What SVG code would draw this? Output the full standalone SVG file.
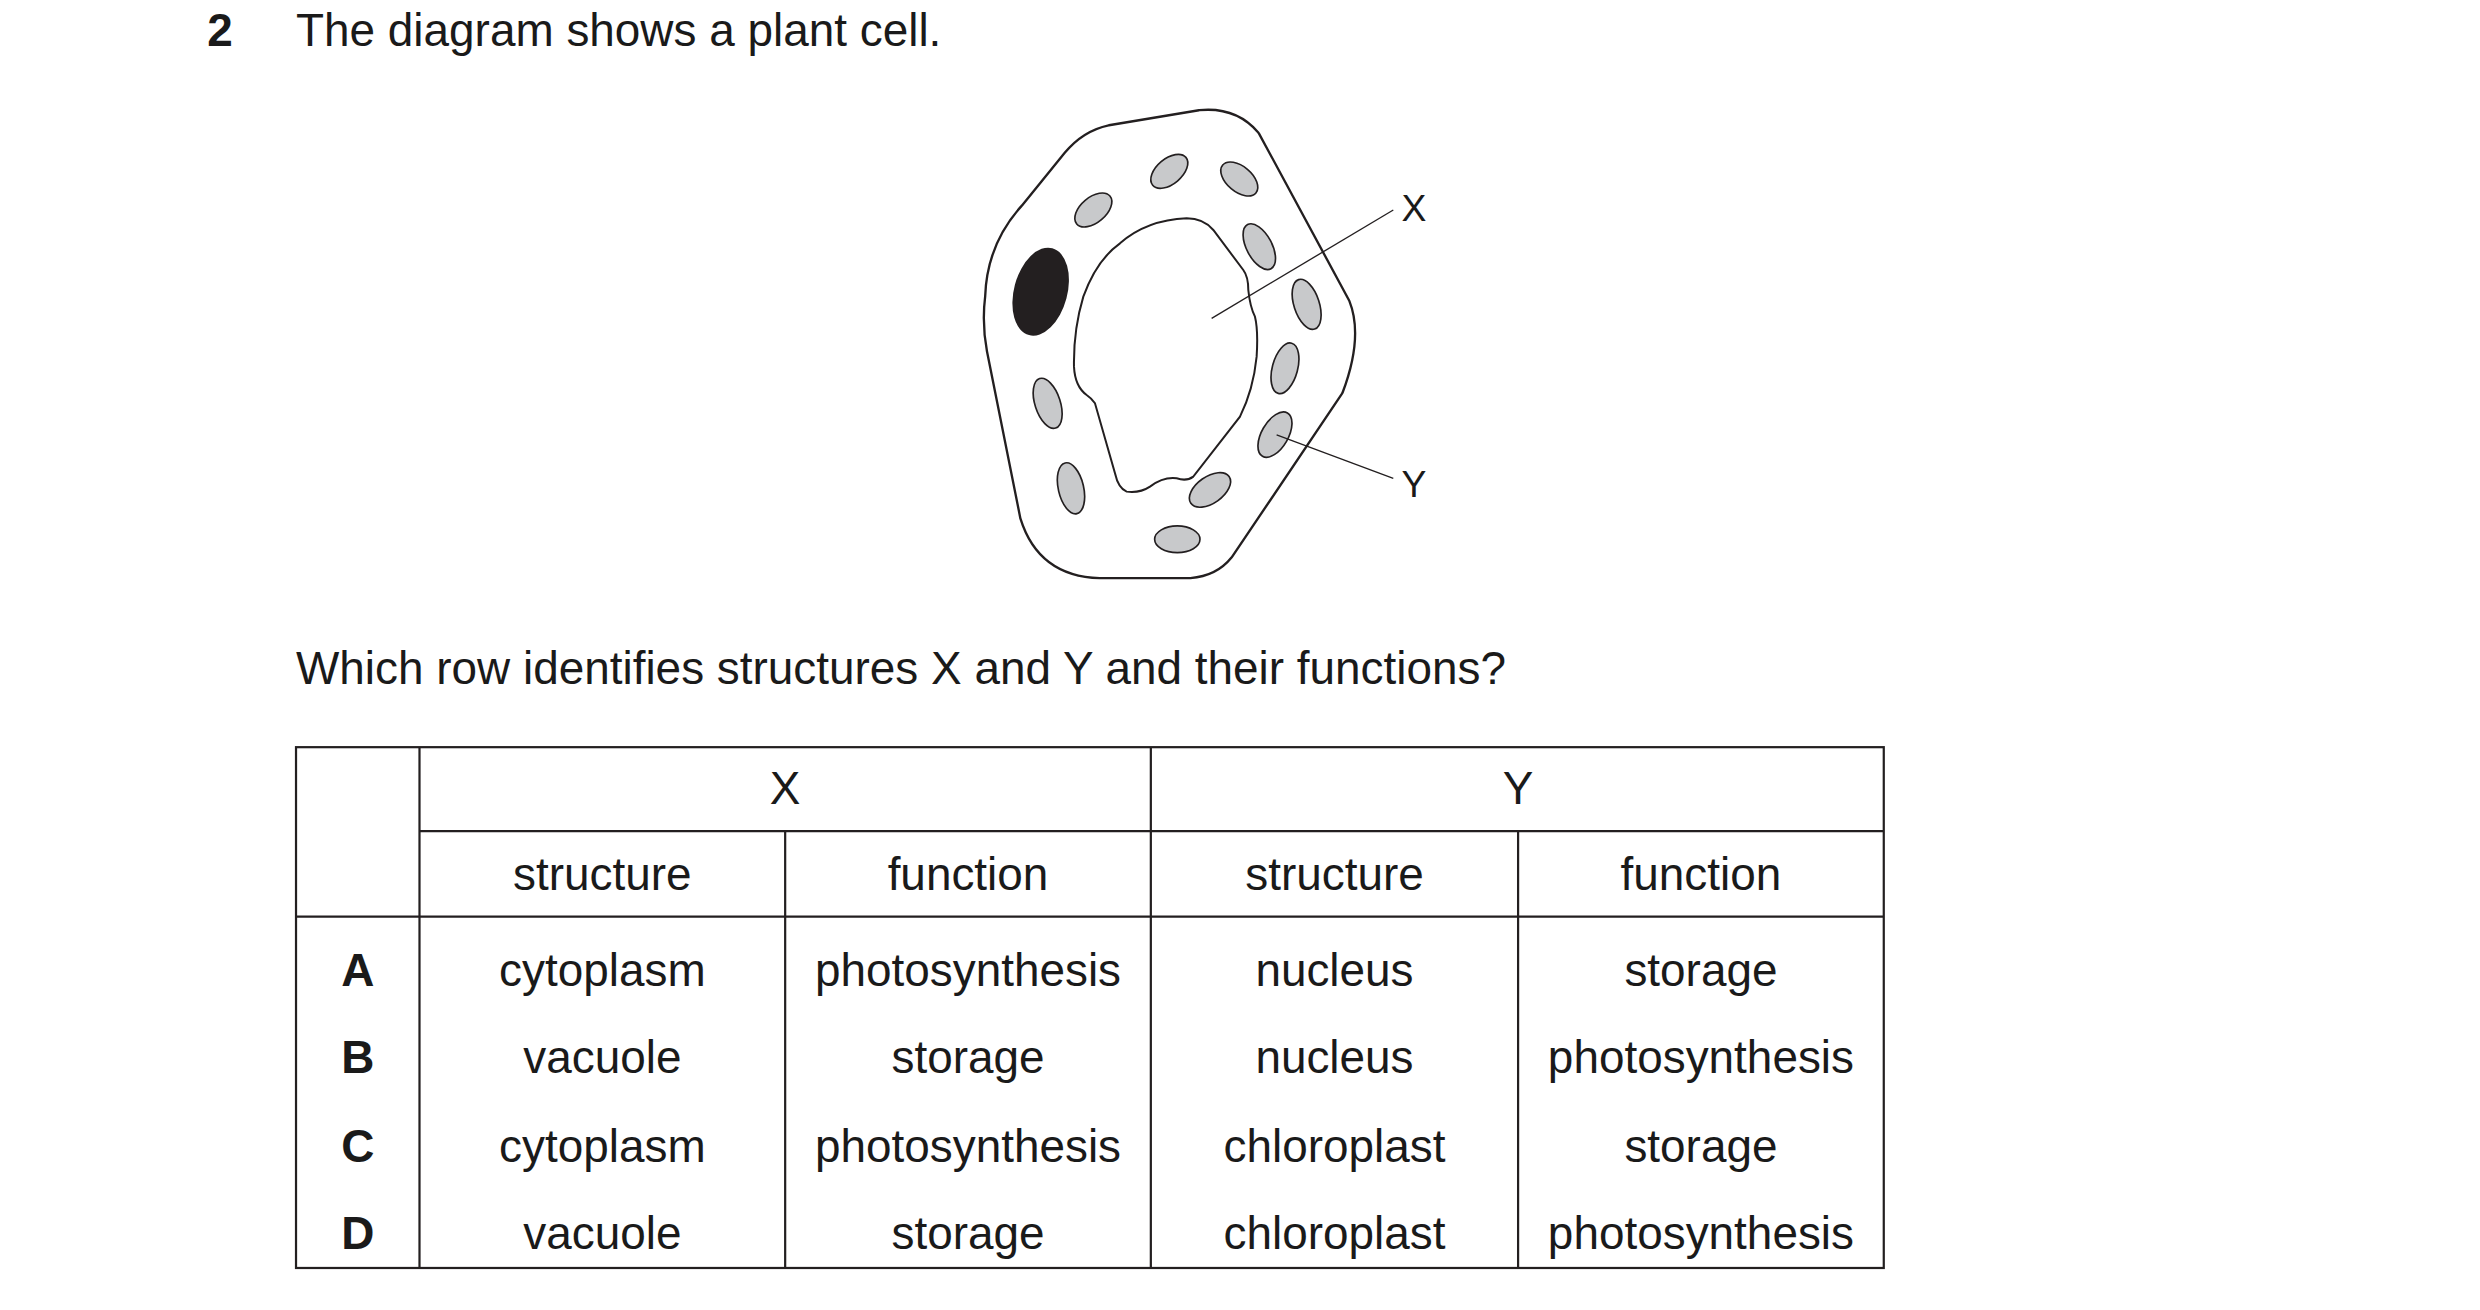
<svg xmlns="http://www.w3.org/2000/svg" width="2480" height="1310" viewBox="0 0 2480 1310">
<style>
text{font-family:"Liberation Sans",Arial,sans-serif;font-size:29px;fill:#1a1a1a}
.c{text-anchor:middle}
.b{font-weight:bold}
.t{stroke:#231f20;stroke-width:1.4;fill:none}
.chl{fill:#c8c9cb;stroke:#231f20;stroke-width:5}
</style>
<rect width="2480" height="1310" fill="#fff"/>
<g id="cell" transform="translate(960,90) scale(0.3333)">
<path id="wall" d="M95,620 Q100,470 200,360 L330,200 Q380,140 450,125 L720,80 Q820,70 880,140 L1150,640 Q1190,740 1130,900 L800,1390 Q760,1440 690,1445 L420,1445 Q250,1440 200,1280 L100,780 Q85,700 95,620 Z" fill="#fff" stroke="#231f20" stroke-width="46" stroke-linejoin="round"/>
<path d="M95,620 Q100,470 200,360 L330,200 Q380,140 450,125 L720,80 Q820,70 880,140 L1150,640 Q1190,740 1130,900 L800,1390 Q760,1440 690,1445 L420,1445 Q250,1440 200,1280 L100,780 Q85,700 95,620 Z" fill="#fff" stroke="#fff" stroke-width="32" stroke-linejoin="round"/>
<path id="vacuole" d="M480,460 Q560,390 680,385 Q730,385 760,420 L850,540 Q865,560 865,600 Q870,650 885,680 Q895,720 890,800 Q880,900 840,980 L700,1160 Q680,1175 650,1165 Q610,1160 570,1190 Q540,1210 500,1205 Q475,1195 465,1150 L405,940 Q395,925 380,915 Q345,890 342,830 Q340,720 370,620 Q410,510 480,460 Z" fill="#fff" stroke="#231f20" stroke-width="6"/>
<ellipse id="nucleus" cx="242" cy="605" rx="80" ry="135" transform="rotate(15 242 605)" fill="#231f20"/>
<g id="chloroplasts">
<ellipse class="chl" cx="628" cy="244" rx="65" ry="38" transform="rotate(-40 628 244)"/>
<ellipse class="chl" cx="838" cy="267" rx="65" ry="38" transform="rotate(40 838 267)"/>
<ellipse class="chl" cx="400" cy="360" rx="65" ry="38" transform="rotate(-40 400 360)"/>
<ellipse class="chl" cx="898" cy="470" rx="75" ry="38" transform="rotate(62 898 470)"/>
<ellipse class="chl" cx="1040" cy="643" rx="78" ry="38" transform="rotate(72 1040 643)"/>
<ellipse class="chl" cx="975" cy="835" rx="78" ry="38" transform="rotate(-75 975 835)"/>
<ellipse class="chl" cx="945" cy="1034" rx="75" ry="40" transform="rotate(-60 945 1034)"/>
<ellipse class="chl" cx="263" cy="940" rx="78" ry="38" transform="rotate(72 263 940)"/>
<ellipse class="chl" cx="333" cy="1195" rx="78" ry="38" transform="rotate(77 333 1195)"/>
<ellipse class="chl" cx="750" cy="1200" rx="70" ry="40" transform="rotate(-35 750 1200)"/>
<ellipse class="chl" cx="652" cy="1348" rx="68" ry="40"/>
</g>
<g id="connectors" stroke="#231f20" stroke-width="4">
<line x1="755" y1="685" x2="1300" y2="360"/>
<line x1="950" y1="1035" x2="1300" y2="1165"/>
</g>
<text x="1362" y="393" class="c" style="font-size:112px">X</text>
<text x="1362" y="1220" class="c" style="font-size:112px">Y</text>
</g>
<g transform="scale(1.583)">
<text x="131" y="29" class="b">2</text>
<text x="187" y="29">The diagram shows a plant cell.</text>
<text x="187" y="432">Which row identifies structures X and Y and their functions?</text>
<g id="table">
<rect x="187" y="472" width="1003" height="329" class="t"/>
<line x1="265" y1="472" x2="265" y2="801" class="t"/>
<line x1="727" y1="472" x2="727" y2="801" class="t"/>
<line x1="496" y1="525" x2="496" y2="801" class="t"/>
<line x1="959" y1="525" x2="959" y2="801" class="t"/>
<line x1="265" y1="525" x2="1190" y2="525" class="t"/>
<line x1="187" y1="579" x2="1190" y2="579" class="t"/>
<text x="496" y="508" class="c">X</text>
<text x="959" y="508" class="c">Y</text>
<text x="380.5" y="562" class="c">structure</text><text x="611.5" y="562" class="c">function</text><text x="843" y="562" class="c">structure</text><text x="1074.5" y="562" class="c">function</text>
<text x="226" y="623" class="c b">A</text><text x="380.5" y="623" class="c">cytoplasm</text><text x="611.5" y="623" class="c">photosynthesis</text><text x="843" y="623" class="c">nucleus</text><text x="1074.5" y="623" class="c">storage</text>
<text x="226" y="678" class="c b">B</text><text x="380.5" y="678" class="c">vacuole</text><text x="611.5" y="678" class="c">storage</text><text x="843" y="678" class="c">nucleus</text><text x="1074.5" y="678" class="c">photosynthesis</text>
<text x="226" y="734" class="c b">C</text><text x="380.5" y="734" class="c">cytoplasm</text><text x="611.5" y="734" class="c">photosynthesis</text><text x="843" y="734" class="c">chloroplast</text><text x="1074.5" y="734" class="c">storage</text>
<text x="226" y="789" class="c b">D</text><text x="380.5" y="789" class="c">vacuole</text><text x="611.5" y="789" class="c">storage</text><text x="843" y="789" class="c">chloroplast</text><text x="1074.5" y="789" class="c">photosynthesis</text>
</g>
</g>
</svg>
